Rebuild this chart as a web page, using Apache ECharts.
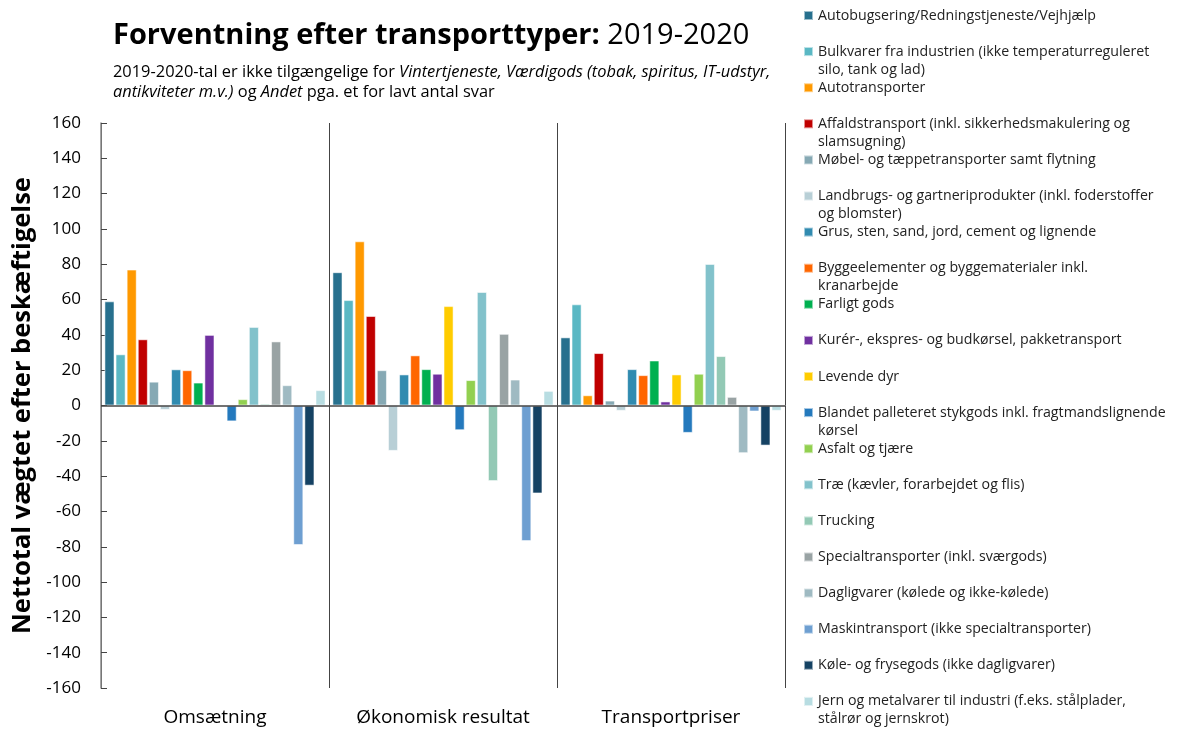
<!DOCTYPE html>
<html>
<head>
<meta charset="utf-8">
<script src="https://cdn.jsdelivr.net/npm/echarts@6/dist/echarts.min.js"></script>
<style>
html,body{margin:0;padding:0;background:#fff;}
#chart{width:1177px;height:729px;}
</style>
</head>
<body>
<div id="chart"></div>
<script>
const categories = ['Omsætning', 'Økonomisk resultat', 'Transportpriser'];

const seriesNames = [
  'Autobugsering/Redningstjeneste/Vejhjælp',
  'Bulkvarer fra industrien (ikke temperaturreguleret silo, tank og lad)',
  'Autotransporter',
  'Affaldstransport (inkl. sikkerhedsmakulering og slamsugning)',
  'Møbel- og tæppetransporter samt flytning',
  'Landbrugs- og gartneriprodukter (inkl. foderstoffer og blomster)',
  'Grus, sten, sand, jord, cement og lignende',
  'Byggeelementer og byggematerialer inkl. kranarbejde',
  'Farligt gods',
  'Kurér-, ekspres- og budkørsel, pakketransport',
  'Levende dyr',
  'Blandet palleteret stykgods inkl. fragtmandslignende kørsel',
  'Asfalt og tjære',
  'Træ (kævler, forarbejdet og flis)',
  'Trucking',
  'Specialtransporter (inkl. sværgods)',
  'Dagligvarer (kølede og ikke-kølede)',
  'Maskintransport (ikke specialtransporter)',
  'Køle- og frysegods (ikke dagligvarer)',
  'Jern og metalvarer til industri (f.eks. stålplader, stålrør og jernskrot)'
];

// legend line breaks (first line, second line)
const legendLines = [
  ['Autobugsering/Redningstjeneste/Vejhjælp'],
  ['Bulkvarer fra industrien (ikke temperaturreguleret', 'silo, tank og lad)'],
  ['Autotransporter'],
  ['Affaldstransport (inkl. sikkerhedsmakulering og', 'slamsugning)'],
  ['Møbel- og tæppetransporter samt flytning'],
  ['Landbrugs- og gartneriprodukter (inkl. foderstoffer', 'og blomster)'],
  ['Grus, sten, sand, jord, cement og lignende'],
  ['Byggeelementer og byggematerialer inkl.', 'kranarbejde'],
  ['Farligt gods'],
  ['Kurér-, ekspres- og budkørsel, pakketransport'],
  ['Levende dyr'],
  ['Blandet palleteret stykgods inkl. fragtmandslignende', 'kørsel'],
  ['Asfalt og tjære'],
  ['Træ (kævler, forarbejdet og flis)'],
  ['Trucking'],
  ['Specialtransporter (inkl. sværgods)'],
  ['Dagligvarer (kølede og ikke-kølede)'],
  ['Maskintransport (ikke specialtransporter)'],
  ['Køle- og frysegods (ikke dagligvarer)'],
  ['Jern og metalvarer til industri (f.eks. stålplader,', 'stålrør og jernskrot)']
];

const colors = [
  '#27708e', '#5ab8c4', '#ff9900', '#c00000', '#86a9b4',
  '#b8cfd6', '#318bb0', '#ff6600', '#00b050', '#7030a0',
  '#ffcc00', '#2479bd', '#92d050', '#82c2cb', '#93c9b5',
  '#99a3a4', '#9fbac2', '#6e9fd1', '#154263', '#b8dde2'
];

// values per category, in series order
const omsaetning = [59, 29, 77, 37.5, 13.5, -2.5, 20.5, 20, 13, 40,
                    null, -9, 3.6, 44.5, 1, 36.3, 11.5, -79, -45.4, 8.7];
const oekonomiskResultat = [75.5, 59.7, 93, 50.7, 20, -25.7, 17.6, 28.4, 20.6, 18,
                    56.3, -14, 14.4, 64.3, -42.8, 40.6, 14.7, -76.8, -49.8, 8.3];
const transportpriser = [38.6, 57.3, 5.8, 29.7, 2.8, -3, 20.6, 17.2, 25.5, 2.3,
                    17.6, -15.5, 18, 80.2, 28, 4.9, -27, -3.4, -22.7, -3];

const yTicks = { min: -160, max: 160, interval: 20 };

const FONT = '"Open Sans", "Noto Sans", sans-serif';

const series = seriesNames.map((name, i) => ({
  name: name,
  type: 'bar',
  data: [omsaetning[i], oekonomiskResultat[i], transportpriser[i]],
  itemStyle: { color: colors[i], borderColor: 'rgba(255,255,255,0.55)', borderWidth: 1 },
  barGap: '10%',
  barCategoryGap: '3%'
}));
series[0].markLine = {
  silent: true,
  symbol: 'none',
  label: { show: false },
  lineStyle: { color: '#444', width: 1.5, type: 'solid' },
  data: [{ yAxis: 0 }]
};

const legends = seriesNames.map((name, i) => {
  const lines = legendLines[i];
  const center = 15.5 + 36.1 * i;
  const two = lines.length > 1;
  return {
    data: [name],
    left: 803,
    top: two ? center - 27 : center - 9,
    orient: 'vertical',
    padding: 0,
    itemWidth: 9,
    itemHeight: 9,
    icon: 'rect',
    selectedMode: false,
    formatter: () => two ? '\n' + lines[0] + '\n' + lines[1] : lines[0],
    textStyle: { fontSize: 14.2, lineHeight: 18, color: '#222', fontFamily: FONT }
  };
});

const chart = echarts.init(document.getElementById('chart'));
chart.setOption({
  animation: false,
  color: colors,
  title: [{
    left: 113,
    top: 21,
    padding: 0,
    text: '{b|Forventning efter transporttyper:}{r| 2019-2020}',
    textStyle: {
      rich: {
        b: { fontSize: 29, fontWeight: 'bold', color: '#000', fontFamily: FONT },
        r: { fontSize: 29, fontWeight: 'normal', color: '#000', fontFamily: FONT }
      }
    }
  }, {
    left: 113,
    top: 62,
    padding: 0,
    text: '{n|2019-2020-tal er ikke tilgængelige for }{i|Vintertjeneste, Værdigods (tobak, spiritus, IT-udstyr,}\n{i|antikviteter m.v.)}{n| og }{i|Andet}{n| pga. et for lavt antal svar}',
    textStyle: {
      fontWeight: 'normal',
      lineHeight: 20,
      rich: {
        n: { fontSize: 16.4, fontWeight: 'normal', color: '#000', fontFamily: FONT, lineHeight: 20 },
        i: { fontSize: 16.4, fontWeight: 'normal', color: '#000', fontFamily: FONT, fontStyle: 'italic', lineHeight: 20 }
      }
    }
  }],
  legend: legends,
  grid: { left: 101, right: 392, top: 123, bottom: 41, containLabel: false },
  xAxis: {
    type: 'category',
    data: categories,
    position: 'bottom',
    axisLine: { show: false, onZero: false },
    axisTick: { show: false },
    axisLabel: { fontSize: 19, color: '#000', fontFamily: FONT, margin: 20 },
    splitLine: { show: true, lineStyle: { color: '#444', width: 1 } }
  },
  yAxis: {
    type: 'value',
    min: yTicks.min,
    max: yTicks.max,
    interval: yTicks.interval,
    name: 'Nettotal vægtet efter beskæftigelse',
    nameLocation: 'middle',
    nameGap: 58,
    nameTextStyle: { fontSize: 25.5, fontWeight: 'bold', color: '#000', fontFamily: FONT },
    axisLine: { show: true, lineStyle: { color: '#888', width: 1.5 } },
    axisTick: { show: true, inside: true, length: 6, lineStyle: { color: '#444' } },
    axisLabel: { fontSize: 17, color: '#000', fontFamily: FONT, margin: 20 },
    splitLine: { show: false }
  },
  series: series
});
</script>
</body>
</html>
